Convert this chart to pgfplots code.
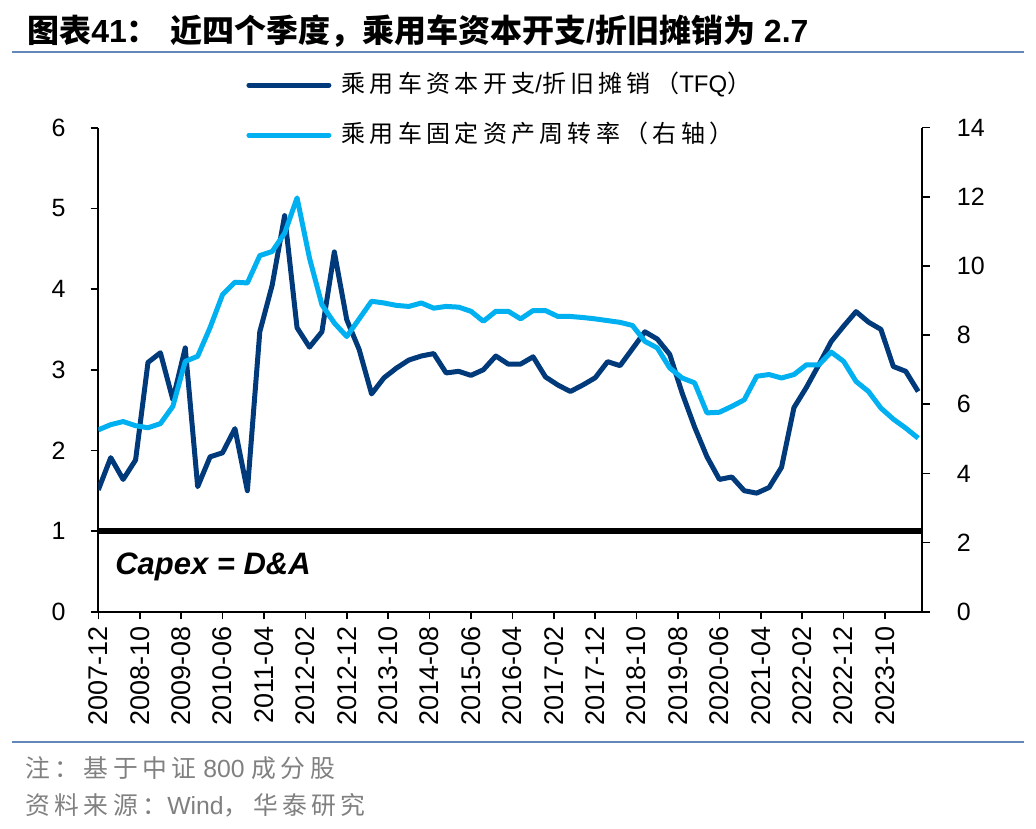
\documentclass[border=0pt]{standalone}
\usepackage{fontspec}
\usepackage{pgfplots}
\pgfplotsset{compat=1.18}
\setmainfont{Liberation Sans}
\newfontfamily\cjk{Noto Sans CJK SC}
\newfontfamily\cjkls[LetterSpace=18]{Noto Sans CJK SC}
\definecolor{darkline}{RGB}{0,58,122}
\definecolor{lightline}{RGB}{0,176,240}
\definecolor{rulecol}{RGB}{100,135,185}
\definecolor{foot}{RGB}{128,128,128}
\begin{document}
\begin{tikzpicture}
\path[use as bounding box] (0,0) rectangle (518pt,-414pt);
% title
\node[anchor=base west, inner sep=0pt] at (13.5pt,-21.5pt)
  {\fontsize{16}{17}\selectfont\bfseries{\cjk 图表}41{\cjk ：\hspace{0.35em}近四个季度，乘用车资本开支}/{\cjk 折旧摊销为} 2.7};
\draw[rulecol, line width=1.2pt] (6pt,-26pt) -- (512pt,-26pt);
\draw[rulecol, line width=1.2pt] (6pt,-371pt) -- (512pt,-371pt);
\node[anchor=base west, inner sep=0pt, text=foot] at (12.5pt,-388.5pt)
  {\fontsize{12.4}{13}\selectfont{\cjkls 注：基于中证} 800 {\cjkls 成分股}};
\node[anchor=base west, inner sep=0pt, text=foot] at (12.5pt,-407pt)
  {\fontsize{12.4}{13}\selectfont{\cjkls 资料来源：}Wind{\cjkls ，华泰研究}};

\begin{axis}[
  at={(49.15pt,-305.85pt)}, anchor=south west,
  width=412pt, height=242pt, scale only axis,
  xmin=0, xmax=199, ymin=0, ymax=6,
  axis y line*=left, axis x line*=bottom,
  axis line style={-, line width=0.9pt, black},
  xtick={0,10,...,190},
  xticklabels={2007-12,2008-10,2009-08,2010-06,2011-04,2012-02,2012-12,2013-10,2014-08,2015-06,2016-04,2017-02,2017-12,2018-10,2019-08,2020-06,2021-04,2022-02,2022-12,2023-10},
  x tick label style={rotate=90, anchor=east, font=\fontsize{13.5}{13.5}\selectfont},
  ytick={0,1,...,6},
  y tick label style={font=\fontsize{12.5}{12.5}\selectfont, xshift=-9pt},
  tick align=outside, major tick length=3.8pt,
  tick style={black, line width=0.8pt},
  /pgf/number format/assume math mode=true,
]
\addplot[black, line width=2.9pt] coordinates {(0,1) (199,1)};
\addplot[darkline, line width=2.5pt, line join=round] coordinates {
(0,1.51) (3,1.91) (6,1.64) (9,1.88) (12,3.09) (15,3.21) (18,2.63) (21,3.27)
(24,1.55) (27,1.92) (30,1.97) (33,2.27) (36,1.50) (39,3.47) (42,4.05) (45,4.91)
(48,3.52) (51,3.28) (54,3.47) (57,4.46) (60,3.62) (63,3.25) (66,2.70) (69,2.90)
(72,3.02) (75,3.12) (78,3.17) (81,3.20) (84,2.96) (87,2.98) (90,2.93) (93,3.00)
(96,3.17) (99,3.07) (102,3.07) (105,3.16) (108,2.91) (111,2.81) (114,2.73) (117,2.81)
(120,2.90) (123,3.10) (126,3.05) (129,3.26) (132,3.47) (135,3.38) (138,3.19) (141,2.71)
(144,2.29) (147,1.92) (150,1.64) (153,1.67) (156,1.50) (159,1.47) (162,1.54) (165,1.79)
(168,2.53) (171,2.78) (174,3.06) (177,3.35) (180,3.54) (183,3.72) (186,3.59) (189,3.50)
(192,3.04) (195,2.98) (198,2.73)};
\node[anchor=base west, inner sep=0pt] at (axis cs:4,0.46)
  {\fontsize{15.5}{16}\selectfont\bfseries\itshape Capex = D\&A};
\end{axis}

\begin{axis}[
  at={(49.15pt,-305.85pt)}, anchor=south west,
  width=412pt, height=242pt, scale only axis,
  xmin=0, xmax=199, ymin=0, ymax=14,
  axis y line*=right, axis x line=none,
  axis line style={-, line width=0.9pt, black},
  ytick={0,2,...,14},
  y tick label style={font=\fontsize{12.5}{12.5}\selectfont, xshift=10pt},
  tick align=outside, major tick length=3.8pt,
  tick style={black, line width=0.8pt},
  /pgf/number format/assume math mode=true,
  legend cell align=left,
  legend image code/.code={\draw[#1, line cap=round] (0pt,0pt) -- (40pt,0pt); \path (44pt,0pt);},
  legend style={at={(0.172,1.124)}, anchor=north west, draw=none, fill=none,
    font=\fontsize{12}{12}\selectfont, row sep=12pt,
    nodes={inner sep=1pt, text height=9pt, text depth=2pt}},
]
\addlegendimage{darkline, line width=2.5pt}
\addlegendentry{{\cjkls 乘用车资本开支}/{\cjkls 折旧摊销（}TFQ{\cjkls ）}}
\addplot[lightline, line width=2.5pt, line join=round] coordinates {
(0,5.26) (3,5.41) (6,5.50) (9,5.38) (12,5.32) (15,5.44) (18,5.94) (21,7.24)
(24,7.39) (27,8.22) (30,9.17) (33,9.53) (36,9.51) (39,10.30) (42,10.42) (45,10.95)
(48,11.97) (51,10.23) (54,8.88) (57,8.35) (60,7.96) (63,8.47) (66,8.98) (69,8.93)
(72,8.86) (75,8.83) (78,8.93) (81,8.78) (84,8.83) (87,8.81) (90,8.69) (93,8.40)
(96,8.69) (99,8.69) (102,8.47) (105,8.71) (108,8.71) (111,8.54) (114,8.54) (117,8.51)
(120,8.47) (123,8.42) (126,8.37) (129,8.28) (132,7.82) (135,7.63) (138,7.05) (141,6.76)
(144,6.62) (147,5.75) (150,5.77) (153,5.94) (156,6.13) (159,6.81) (162,6.86) (165,6.76)
(168,6.86) (171,7.14) (174,7.14) (177,7.51) (180,7.24) (183,6.66) (186,6.37) (189,5.89)
(192,5.57) (195,5.31) (198,5.02)};
\addlegendentry{{\cjkls 乘用车固定资产周转率（右轴）}}
\end{axis}
\end{tikzpicture}
\end{document}
